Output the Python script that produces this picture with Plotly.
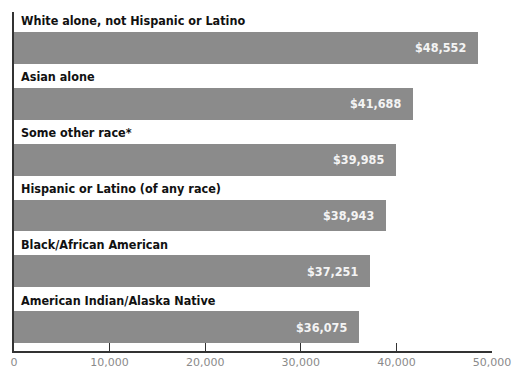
import plotly.graph_objects as go

# Median household income by race / ethnicity
groups = [
    "White alone, not Hispanic or Latino",
    "Asian alone",
    "Some other race*",
    "Hispanic or Latino (of any race)",
    "Black/African American",
    "American Indian/Alaska Native",
]
incomes = [48552, 41688, 39985, 38943, 37251, 36075]
tick_vals = [0, 10000, 20000, 30000, 40000, 50000]
tick_text = ["0", "10,000", "20,000", "30,000", "40,000", "50,000"]

positions = list(range(len(groups)))
bar_color = "#8b8b8b"

fig = go.Figure(
    go.Bar(
        x=incomes,
        y=positions,
        orientation="h",
        width=0.57,
        marker=dict(color=bar_color, line=dict(width=0)),
        hoverinfo="skip",
    )
)

# group names sit just above each bar
for pos, name in zip(positions, groups):
    fig.add_annotation(
        x=0, xref="x", y=pos, yref="y",
        text=name, showarrow=False,
        xanchor="left", yanchor="middle",
        xshift=5, yshift=27,
        font=dict(family="DejaVu Sans Condensed", size=12.5, color="#111111", weight="bold"),
    )

# dollar values inside the right end of each bar
for pos, val in zip(positions, incomes):
    fig.add_annotation(
        x=val, xref="x", y=pos, yref="y",
        text=f"${val:,}", showarrow=False,
        xanchor="right", yanchor="middle",
        xshift=-10,
        font=dict(family="DejaVu Sans Condensed", size=12.5, color="#f4f4f4", weight="bold"),
    )

fig.update_layout(
    width=514, height=372,
    margin=dict(l=14, r=22, t=12, b=21, autoexpand=False),
    paper_bgcolor="white", plot_bgcolor="white",
    showlegend=False,
    bargap=0,
    xaxis=dict(
        range=[0, 50000],
        tickmode="array", tickvals=tick_vals, ticktext=tick_text,
        ticks="inside", ticklen=8, tickwidth=1, tickcolor="#333333",
        showline=True, linecolor="#333333", linewidth=2,
        showgrid=False, zeroline=False, automargin=False,
        tickfont=dict(family="DejaVu Sans", size=11, color="#8a8a8a"),
        fixedrange=True,
    ),
    yaxis=dict(
        range=[5.43, -0.645],
        showticklabels=False, ticks="",
        showline=True, linecolor="#333333", linewidth=2,
        showgrid=False, zeroline=False, automargin=False,
        fixedrange=True,
    ),
)

fig.write_html("out.html")
